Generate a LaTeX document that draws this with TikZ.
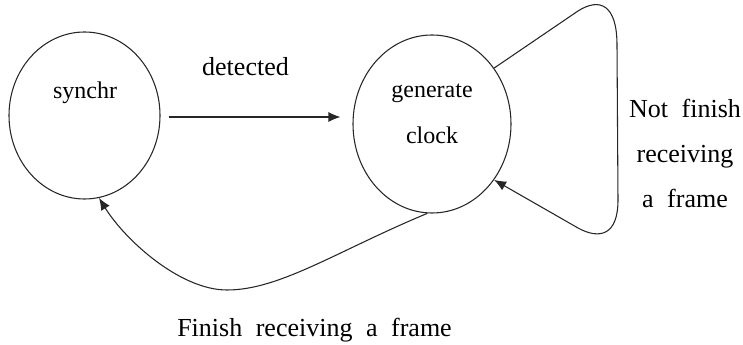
\documentclass[tikz,border=0pt]{standalone}
\usepackage{fontspec}
\setmainfont{Liberation Serif}
\usetikzlibrary{shapes.geometric,arrows.meta}
\newcommand\wsp{\hskip0.52em\relax}
\begin{document}
\begin{tikzpicture}[x=0.75pt,y=-0.75pt,
  state/.style={draw=black!85,line width=0.8pt,ellipse,inner sep=0pt},
  lbl/.style={font=\fontsize{18}{22}\selectfont,inner sep=0pt},
  biglbl/.style={font=\fontsize{19.5}{24}\selectfont,inner sep=0pt},
  wide/.style={font=\fontsize{19.5}{33.75}\selectfont,inner sep=0pt,align=center},
  conn/.style={draw=black!85,line width=0.8pt,-{Latex[length=9pt,width=7.5pt]}}]
\useasboundingbox (0,0) rectangle (743,345);
\node[state,minimum width=113.25pt,minimum height=125.25pt] (a) at (84.5,115.5) {};
\node[state,minimum width=118.5pt,minimum height=133.5pt] (b) at (432,124) {};
\node[lbl] (ta) at (85,93) {synchr};
\node[lbl] (tb1) at (432,93) {generate};
\node[lbl] (tb2) at (432,135) {clock};
\node[biglbl] (det) at (245.5,67) {detected};
\node[wide] (nf) at (685,153) {Not\wsp finish\\receiving\\a\wsp frame};
\node[biglbl] (fin) at (314.5,330) {Finish\wsp receiving\wsp a\wsp frame};
\draw[conn] ([shift={(8,1.5)}]a.east) -- ([shift={(-12,-7)}]b.west);
\draw[conn] (b.42) -- (578,11) .. controls (600,-3) and (617,5) .. (617,45)
  -- (618,200) .. controls (618,235) and (600,240) .. (578,228) -- (b.-42);
\draw[conn] (b.-93) .. controls (337,251) and (280,290) .. (227,290)
  .. controls (180,290) and (125,240) .. (a.-80);
\end{tikzpicture}
\end{document}
